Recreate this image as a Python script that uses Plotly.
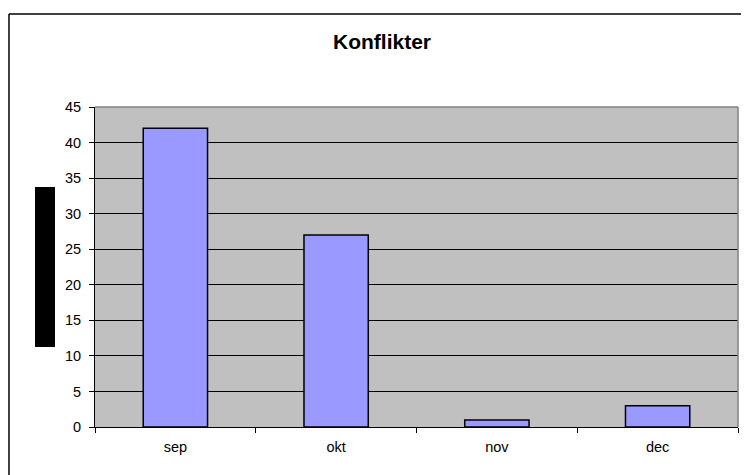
import plotly.graph_objects as go

months = ["sep", "okt", "nov", "dec"]
konflikter = [42, 27, 1, 3]
y_ticks = [0, 5, 10, 15, 20, 25, 30, 35, 40, 45]

# page body has an 8px margin; work in screen pixels and shift
OFF = 8
W, H = 749 - OFF, 475 - OFF
L, R, T, B = 95, 738, 107, 427  # plot area in screen px


def px(x):
    return (x - L) / (R - L)


def py(y):
    return (B - y) / (B - T)


fig = go.Figure(go.Bar(
    x=months, y=konflikter,
    marker=dict(color="#9999FF", line=dict(color="black", width=1.5)),
    width=0.4,
))

font = dict(family="Liberation Sans, Arial, sans-serif", size=14.5, color="black")

fig.update_layout(
    width=W, height=H,
    margin=dict(l=L - OFF, r=W - (R - OFF), t=T - OFF, b=H - (B - OFF), pad=0),
    paper_bgcolor="white",
    plot_bgcolor="#C0C0C0",
    showlegend=False,
    font=font,
    title=dict(text="<b>Konflikter</b>", x=(382 - OFF) / W, xref="container", xanchor="center",
               y=1 - (42 - OFF) / H, yref="container", yanchor="middle",
               font=dict(family="Liberation Sans, Arial, sans-serif", size=21, color="black")),
    xaxis=dict(showgrid=False, showline=True, linecolor="black", linewidth=1,
               ticks="outside", tickson="boundaries", ticklen=5, tickcolor="black",
               ticklabelstandoff=7, tickfont=font, fixedrange=True),
    yaxis=dict(range=[0, 45], tickvals=y_ticks, showgrid=True, gridcolor="black", gridwidth=1,
               showline=True, linecolor="black", linewidth=1, zeroline=False,
               ticks="outside", ticklen=5, tickcolor="black", ticklabelstandoff=5,
               tickfont=font, fixedrange=True),
    shapes=[
        # plot area top and right border (gray)
        dict(type="line", xref="paper", yref="paper", x0=0, x1=1, y0=1, y1=1,
             line=dict(color="#808080", width=1.5), layer="above"),
        dict(type="line", xref="paper", yref="paper", x0=1, x1=1, y0=0, y1=1,
             line=dict(color="#808080", width=1.5), layer="above"),
        # chart frame (left and top edges visible)
        dict(type="line", xref="paper", yref="paper", x0=px(9), x1=px(760), y0=py(14), y1=py(14),
             line=dict(color="black", width=1.5)),
        dict(type="line", xref="paper", yref="paper", x0=px(9), x1=px(9), y0=py(14), y1=py(490),
             line=dict(color="black", width=1.5)),
        # redacted axis title block
        dict(type="rect", xref="paper", yref="paper", x0=px(35), x1=px(55), y0=py(347), y1=py(187),
             fillcolor="black", line=dict(width=0)),
    ],
)

fig.write_html("out.html")
